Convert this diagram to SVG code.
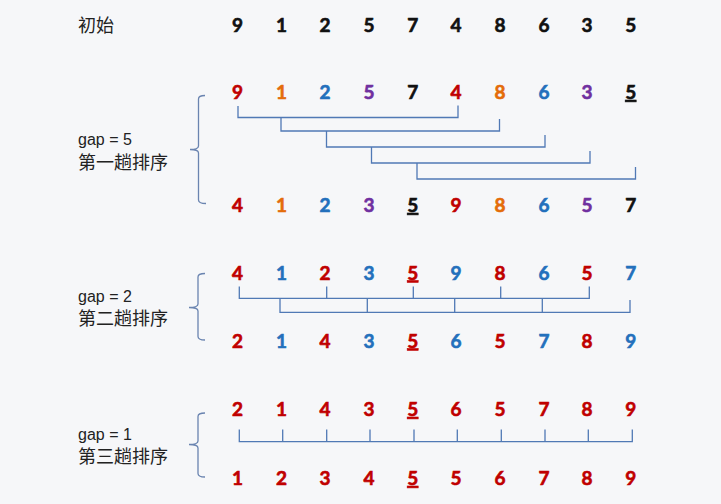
<svg xmlns="http://www.w3.org/2000/svg" width="721" height="504" viewBox="0 0 721 504">
<style>
.d{font-family:Lato,"Liberation Sans",sans-serif;font-weight:bold;font-size:19px;text-anchor:middle;stroke-width:0.6}
.lbl{font-family:"Liberation Sans",Arial,sans-serif;font-size:16px;fill:#222}
.cjk{font-family:"Noto Sans CJK SC","Noto Sans",sans-serif;font-size:18px;fill:#222}
.r{fill:#C00000;stroke:#C00000}.o{fill:#E46C0A;stroke:#E46C0A}.b{fill:#2370BC;stroke:#2370BC}.p{fill:#7030A0;stroke:#7030A0}.k{fill:#111;stroke:#111}
.u{text-decoration:underline}
.ln{fill:none;stroke:#5079B5;stroke-width:1.3}
.br{fill:none;stroke:#6A84B0;stroke-width:1.3}
</style>
<rect width="721" height="504" fill="#F6F7F9"/>

<g id="labels">
<text class="cjk" x="78" y="31.5">初始</text>
<text class="lbl" x="78" y="145">gap = 5</text>
<text class="cjk" x="78" y="169">第一趟排序</text>
<text class="lbl" x="78" y="301.5">gap = 2</text>
<text class="cjk" x="78" y="324.5">第二趟排序</text>
<text class="lbl" x="78" y="440">gap = 1</text>
<text class="cjk" x="78" y="463">第三趟排序</text>
</g>

<g id="row-initial">
<text class="d k" x="237.5" y="32">9</text>
<text class="d k" x="281.5" y="32">1</text>
<text class="d k" x="325" y="32">2</text>
<text class="d k" x="369" y="32">5</text>
<text class="d k" x="412.7" y="32">7</text>
<text class="d k" x="456" y="32">4</text>
<text class="d k" x="500" y="32">8</text>
<text class="d k" x="544" y="32">6</text>
<text class="d k" x="587" y="32">3</text>
<text class="d k" x="630.7" y="32">5</text>
</g>

<g id="row-gap5-before">
<text class="d r" x="237.5" y="99">9</text>
<text class="d o" x="281.5" y="99">1</text>
<text class="d b" x="325" y="99">2</text>
<text class="d p" x="369" y="99">5</text>
<text class="d k" x="412.7" y="99">7</text>
<text class="d r" x="456" y="99">4</text>
<text class="d o" x="500" y="99">8</text>
<text class="d b" x="544" y="99">6</text>
<text class="d p" x="587" y="99">3</text>
<text class="d k u" x="630.7" y="99">5</text>
</g>

<g id="row-gap5-after">
<text class="d r" x="237.5" y="212">4</text>
<text class="d o" x="281.5" y="212">1</text>
<text class="d b" x="325" y="212">2</text>
<text class="d p" x="369" y="212">3</text>
<text class="d k u" x="412.7" y="212">5</text>
<text class="d r" x="456" y="212">9</text>
<text class="d o" x="500" y="212">8</text>
<text class="d b" x="544" y="212">6</text>
<text class="d p" x="587" y="212">5</text>
<text class="d k" x="630.7" y="212">7</text>
</g>

<g id="row-gap2-before">
<text class="d r" x="237.5" y="279.5">4</text>
<text class="d b" x="281.5" y="279.5">1</text>
<text class="d r" x="325" y="279.5">2</text>
<text class="d b" x="369" y="279.5">3</text>
<text class="d r u" x="412.7" y="279.5">5</text>
<text class="d b" x="456" y="279.5">9</text>
<text class="d r" x="500" y="279.5">8</text>
<text class="d b" x="544" y="279.5">6</text>
<text class="d r" x="587" y="279.5">5</text>
<text class="d b" x="630.7" y="279.5">7</text>
</g>

<g id="row-gap2-after">
<text class="d r" x="237.5" y="347.5">2</text>
<text class="d b" x="281.5" y="347.5">1</text>
<text class="d r" x="325" y="347.5">4</text>
<text class="d b" x="369" y="347.5">3</text>
<text class="d r u" x="412.7" y="347.5">5</text>
<text class="d b" x="456" y="347.5">6</text>
<text class="d r" x="500" y="347.5">5</text>
<text class="d b" x="544" y="347.5">7</text>
<text class="d r" x="587" y="347.5">8</text>
<text class="d b" x="630.7" y="347.5">9</text>
</g>

<g id="row-gap1-before">
<text class="d r" x="237.5" y="416">2</text>
<text class="d r" x="281.5" y="416">1</text>
<text class="d r" x="325" y="416">4</text>
<text class="d r" x="369" y="416">3</text>
<text class="d r u" x="412.7" y="416">5</text>
<text class="d r" x="456" y="416">6</text>
<text class="d r" x="500" y="416">5</text>
<text class="d r" x="544" y="416">7</text>
<text class="d r" x="587" y="416">8</text>
<text class="d r" x="630.7" y="416">9</text>
</g>

<g id="row-gap1-after">
<text class="d r" x="237.5" y="485">1</text>
<text class="d r" x="281.5" y="485">2</text>
<text class="d r" x="325" y="485">3</text>
<text class="d r" x="369" y="485">4</text>
<text class="d r u" x="412.7" y="485">5</text>
<text class="d r" x="456" y="485">5</text>
<text class="d r" x="500" y="485">6</text>
<text class="d r" x="544" y="485">7</text>
<text class="d r" x="587" y="485">8</text>
<text class="d r" x="630.7" y="485">9</text>
</g>

<g id="braces">
<path class="br" d="M205,95.5 Q198.5,95.5 198.5,99 L198.5,146 Q198.5,149.5 190,149.5 Q198.5,149.5 198.5,153 L198.5,200 Q198.5,203.5 206,203.5"/>
<path class="br" d="M205,273.5 Q198,273.5 198,277 L198,304 Q198,307.5 189,307.5 Q198,307.5 198,311 L198,336.5 Q198,340 205,340"/>
<path class="br" d="M205,413 Q198,413 198,416.5 L198,441 Q198,444.5 189,444.5 Q198,444.5 198,448 L198,473.5 Q198,477 205,477"/>
</g>

<g id="connectors">
<path class="ln" d="M238,106 V117.5 H458 V105.5"/>
<path class="ln" d="M281,117.5 V131 H499.5 V119"/>
<path class="ln" d="M326.5,131 V147 H545 V135"/>
<path class="ln" d="M371.5,147 V163 H590 V151"/>
<path class="ln" d="M417,163 V179 H635.5 V167"/>

<path class="ln" d="M239.3,286.5 V298.3 H589.3 V286.5 M326.7,286.5 V298.3 M413.3,286.5 V298.3 M500.7,286.5 V298.3"/>
<path class="ln" d="M280,298.3 V312.3 H630 V300 M367.3,298.3 V312.3 M454.7,298.3 V312.3 M542.3,298.3 V312.3"/>

<path class="ln" d="M239.3,429.5 V441.7 H632.3 V429.5 M282.7,429.5 V441.7 M326.7,429.5 V441.7 M370,429.5 V441.7 M414,429.5 V441.7 M457.3,429.5 V441.7 M501.3,429.5 V441.7 M545,429.5 V441.7 M588.3,429.5 V441.7"/>
</g>
</svg>
